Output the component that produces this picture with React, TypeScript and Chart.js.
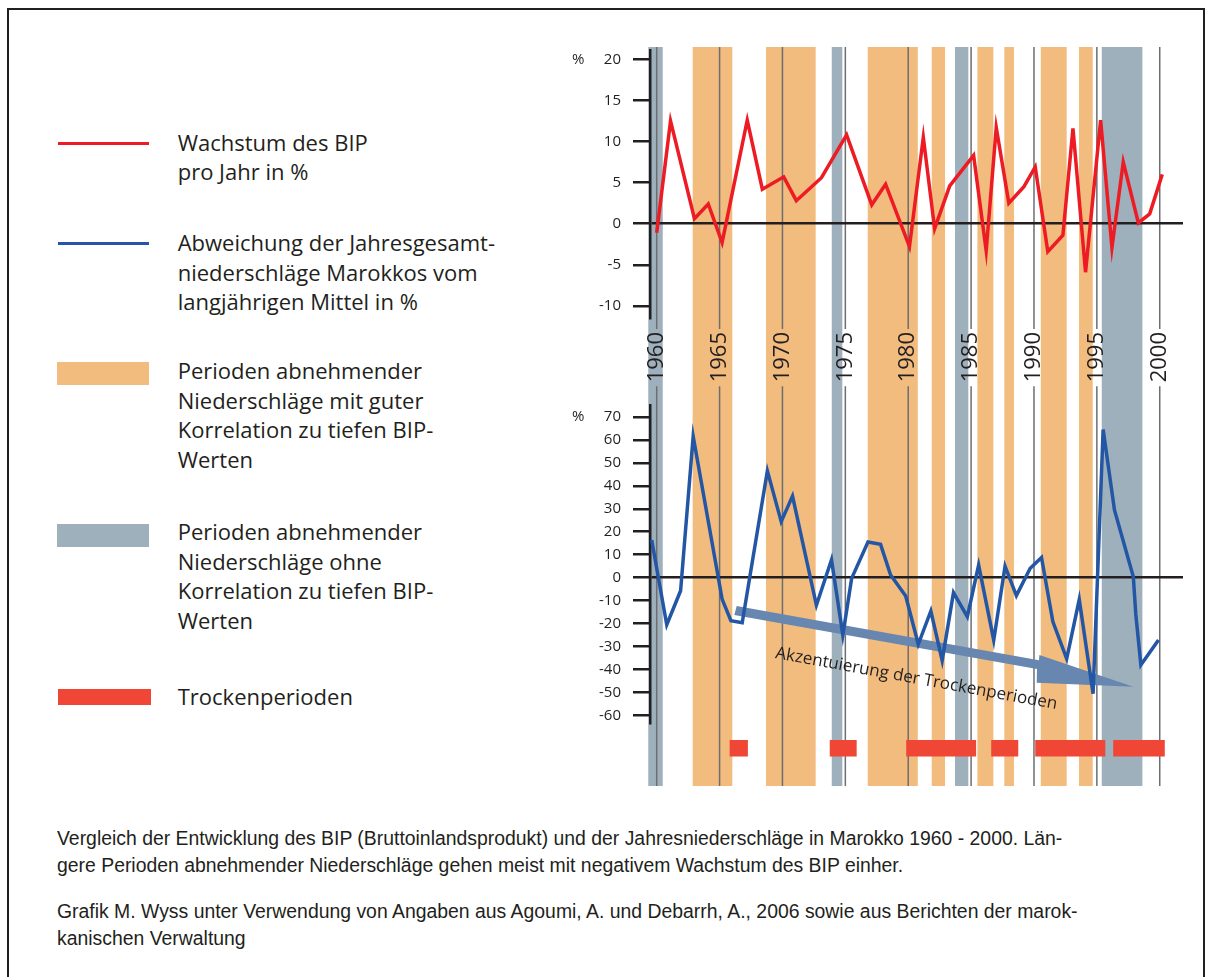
import { useEffect, useRef } from "react";
import { Chart, registerables } from "chart.js";

Chart.register(...registerables);

const FONT = '"Open Sans", "DejaVu Sans", sans-serif';
const INK = "#231F20";
const RED = "#ED1C24";
const BLUE = "#2356A5";
const ORANGE = "#F2BC7F";
const GRAY = "#9EB0BC";
const DRY = "#EF4635";
const YEARLINE = "#6D6E70";
const ARROW = "#6787B1";

// ---- data ----
const yearTicks = [1960, 1965, 1970, 1975, 1980, 1985, 1990, 1995, 2000];
const gdpTicks = [-10, -5, 0, 5, 10, 15, 20];
const rainTicks = [-60, -50, -40, -30, -20, -10, 0, 10, 20, 30, 40, 50, 60, 70];

const gdpYears = [1960, 1961.1, 1963, 1964.1, 1965.2, 1967.2, 1968.4, 1970.1, 1971.1, 1973.1, 1975.1, 1977.1, 1978.2, 1980.1, 1981.2, 1982.1, 1983.3, 1985.2, 1986.2, 1987, 1988, 1989.2, 1990.1, 1991.1, 1992.3, 1993.1, 1994.1, 1995.3, 1996.2, 1997.1, 1998.3, 1999.2, 2000.2];
const gdpValues = [-1.1, 12.5, 0.6, 2.4, -2.3, 12.6, 4.2, 5.7, 2.8, 5.6, 10.8, 2.3, 4.8, -2.8, 10.5, -0.6, 4.6, 8.3, -3.3, 11.7, 2.5, 4.5, 6.9, -3.4, -1.4, 11.6, -5.9, 12.6, -2.9, 7.5, 0.1, 1.2, 6.0];

const rainYears = [1959.6, 1960.8, 1961.9, 1962.9, 1965.2, 1965.9, 1966.8, 1968.8, 1969.9, 1970.8, 1972.7, 1973.9, 1974.8, 1975.5, 1976.8, 1977.8, 1978.6, 1979.8, 1980.8, 1981.8, 1982.7, 1983.6, 1984.7, 1985.6, 1986.8, 1987.7, 1988.6, 1989.7, 1990.6, 1991.5, 1992.6, 1993.6, 1994.7, 1995.5, 1996.4, 1997.9, 1998.1, 1998.5, 1999.9];
const rainValues = [16.4, -20.5, -5.7, 61.5, -9.3, -18.7, -19.6, 46.5, 24.4, 35.5, -12, 7.8, -25, -0.3, 15.5, 14.5, 1.2, -8, -29, -14.5, -36, -6.5, -17, 5.5, -27.2, 5, -7.8, 4.1, 8.8, -19.1, -35.3, -9.5, -50.5, 64.5, 29.5, 0.4, -16.2, -38, -27.1];

const orangeBands = [[1962.86, 1966.01], [1968.69, 1972.64], [1976.78, 1980.76], [1981.87, 1982.93], [1985.5, 1986.77], [1987.64, 1988.41], [1990.54, 1992.6], [1993.58, 1994.67]];
const grayBands = [[1959.33, 1960.48], [1973.92, 1974.76], [1983.72, 1984.78], [1995.39, 1998.62]];
const dryPeriods = [[1965.8, 1967.25], [1973.76, 1975.9], [1979.84, 1985.4], [1986.6, 1988.75], [1990.1, 1995.67], [1996.3, 2000.4]];

// arrow annotation (year, % deviation)
const arrowShape = [[1966.36, -12.3], [1990.4, -35.9], [1990.43, -33.7], [1997.9, -47.5], [1990.22, -45.7], [1990.24, -39.8], [1966.17, -16.2]];
const arrowLabel = "Akzentuierung der Trockenperioden";
const arrowLabelAt = [1980.58, -46.1];
const arrowLabelAngle = 10.3;

const X_MIN = 1959.467;
const X_MAX = 2001.85;
const LABEL_PAD = 14;

function makePlugin(mode: "top" | "bottom") {
  return {
    id: "decor-" + mode,
    beforeDraw(chart: any) {
      const { ctx, chartArea, scales } = chart;
      const x = scales.x;
      const top = mode === "top" ? chartArea.top - 3 : 0;
      const bottom = mode === "top" ? chart.height : chartArea.bottom + 63;
      ctx.save();
      const band = (b: number[], color: string) => {
        const a = x.getPixelForValue(b[0]);
        const c = x.getPixelForValue(b[1]);
        ctx.fillStyle = color;
        ctx.fillRect(a, top, c - a, bottom - top);
      };
      orangeBands.forEach((b) => band(b, ORANGE));
      grayBands.forEach((b) => band(b, GRAY));
      ctx.strokeStyle = YEARLINE;
      ctx.lineWidth = 1.5;
      ctx.font = `22px ${FONT}`;
      yearTicks.forEach((yr) => {
        const px = x.getPixelForValue(yr);
        ctx.beginPath();
        if (mode === "top") {
          const lt = chartArea.bottom + LABEL_PAD;
          const lb = lt + ctx.measureText(String(yr)).width;
          ctx.moveTo(px, top);
          ctx.lineTo(px, lt - 3);
          ctx.moveTo(px, lb + 4);
          ctx.lineTo(px, bottom);
        } else {
          ctx.moveTo(px, top);
          ctx.lineTo(px, bottom);
        }
        ctx.stroke();
      });
      if (mode === "bottom") {
        ctx.fillStyle = DRY;
        dryPeriods.forEach((d) => {
          const a = x.getPixelForValue(d[0]);
          const c = x.getPixelForValue(d[1]);
          ctx.fillRect(a, chartArea.bottom + 17, c - a, 16.5);
        });
      }
      ctx.restore();
    },
    beforeDatasetsDraw(chart: any) {
      if (mode !== "bottom") return;
      const { ctx, scales } = chart;
      ctx.save();
      ctx.fillStyle = ARROW;
      ctx.beginPath();
      arrowShape.forEach((p, i) => {
        const px = scales.x.getPixelForValue(p[0]);
        const py = scales.y.getPixelForValue(p[1]);
        if (i === 0) ctx.moveTo(px, py);
        else ctx.lineTo(px, py);
      });
      ctx.closePath();
      ctx.fill();
      ctx.restore();
    },
    afterDatasetsDraw(chart: any) {
      const { ctx, scales } = chart;
      ctx.save();
      if (mode === "bottom") {
        const px = scales.x.getPixelForValue(arrowLabelAt[0]);
        const py = scales.y.getPixelForValue(arrowLabelAt[1]);
        ctx.translate(px, py);
        ctx.rotate((arrowLabelAngle * Math.PI) / 180);
        ctx.font = `17px ${FONT}`;
        ctx.fillStyle = INK;
        ctx.textAlign = "center";
        ctx.textBaseline = "alphabetic";
        ctx.fillText(arrowLabel, 0, 0);
      }
      ctx.restore();
    },
    afterDraw(chart: any) {
      const { ctx, scales } = chart;
      const ticks = mode === "top" ? gdpTicks : rainTicks;
      const py = scales.y.getPixelForValue(ticks[ticks.length - 1]);
      ctx.save();
      ctx.font = `15px ${FONT}`;
      ctx.fillStyle = INK;
      ctx.textAlign = "left";
      ctx.textBaseline = "middle";
      ctx.fillText("%", 12, py);
      ctx.restore();
    },
  };
}

function makeChart(canvas: HTMLCanvasElement, mode: "top" | "bottom") {
  const years = mode === "top" ? gdpYears : rainYears;
  const values = mode === "top" ? gdpValues : rainValues;
  const ticks = mode === "top" ? gdpTicks : rainTicks;
  const yMin = mode === "top" ? -11.47 : -63.26;
  const yMax = mode === "top" ? 21.13 : 75.18;
  return new Chart(canvas, {
    type: "line",
    data: {
      datasets: [
        {
          data: years.map((yr, i) => ({ x: yr, y: values[i] })),
          borderColor: mode === "top" ? RED : BLUE,
          borderWidth: 3.5,
          borderJoinStyle: "miter",
          pointRadius: 0,
          tension: 0,
          fill: false,
        },
      ],
    },
    options: {
      responsive: false,
      animation: false,
      events: [],
      layout: {
        padding: mode === "top" ? { top: 10, right: 17, bottom: 0, left: 0 } : { top: 5, right: 17, bottom: 67, left: 0 },
      },
      plugins: { legend: { display: false }, tooltip: { enabled: false }, title: { display: false } },
      scales: {
        x: {
          type: "linear",
          min: X_MIN,
          max: X_MAX,
          display: mode === "top",
          afterBuildTicks: (s: any) => {
            s.ticks = yearTicks.map((v) => ({ value: v }));
          },
          afterFit: (s: any) => {
            if (mode === "top") s.height = 82;
            else s.height = 0;
            s.paddingLeft = 0;
            s.paddingRight = 0;
            s.paddingTop = 0;
            s.paddingBottom = 0;
          },
          grid: { display: false, drawTicks: false },
          border: { display: false },
          ticks: {
            autoSkip: false,
            minRotation: 90,
            maxRotation: 90,
            padding: LABEL_PAD,
            color: INK,
            font: { family: FONT, size: 22 },
            callback: (v: any) => String(v),
          },
        },
        y: {
          type: "linear",
          min: yMin,
          max: yMax,
          afterBuildTicks: (s: any) => {
            s.ticks = ticks.map((v) => ({ value: v }));
          },
          afterFit: (s: any) => {
            s.width = 90;
            s.paddingTop = 0;
            s.paddingBottom = 0;
            s.paddingLeft = 0;
            s.paddingRight = 0;
          },
          grid: {
            color: (c: any) => (c.tick && c.tick.value === 0 ? INK : "rgba(0,0,0,0)"),
            lineWidth: 2.5,
            tickColor: INK,
            tickWidth: 2.5,
            tickLength: 17,
            drawTicks: true,
            drawOnChartArea: true,
          },
          border: { display: true, color: INK, width: 2.5 },
          ticks: {
            autoSkip: false,
            color: INK,
            padding: 12,
            font: { family: FONT, size: 15 },
            callback: (v: any) => String(v),
          },
        },
      },
    },
    plugins: [makePlugin(mode)],
  } as any);
}

const legendText: { top: number; lines: string[] }[] = [
  { top: 127.5, lines: ["Wachstum des BIP", "pro Jahr in %"] },
  { top: 228.3, lines: ["Abweichung der Jahresgesamt-", "niederschläge Marokkos vom", "langjährigen Mittel in %"] },
  { top: 356.2, lines: ["Perioden abnehmender", "Niederschläge mit guter", "Korrelation zu tiefen BIP-", "Werten"] },
  { top: 517, lines: ["Perioden abnehmender", "Niederschläge ohne", "Korrelation zu tiefen BIP-", "Werten"] },
  { top: 681.5, lines: ["Trockenperioden"] },
];

const captionParas: { top: number; lines: string[] }[] = [
  {
    top: 824.7,
    lines: [
      "Vergleich der Entwicklung des BIP (Bruttoinlandsprodukt) und der Jahresniederschläge in Marokko 1960 - 2000. Län-",
      "gere Perioden abnehmender Niederschläge gehen meist mit negativem Wachstum des BIP einher.",
    ],
  },
  {
    top: 897.7,
    lines: [
      "Grafik M. Wyss unter Verwendung von Angaben aus Agoumi, A. und Debarrh, A., 2006 sowie aus Berichten der marok-",
      "kanischen Verwaltung",
    ],
  },
];

export default function App() {
  const topRef = useRef<HTMLCanvasElement | null>(null);
  const botRef = useRef<HTMLCanvasElement | null>(null);

  useEffect(() => {
    const a = makeChart(topRef.current as HTMLCanvasElement, "top");
    const b = makeChart(botRef.current as HTMLCanvasElement, "bottom");
    return () => {
      a.destroy();
      b.destroy();
    };
  }, []);

  return (
    <div style={{ position: "absolute", left: 0, top: 0, width: 1211, height: 977, overflow: "hidden", background: "#fff" }}>
      <div
        style={{
          position: "absolute",
          left: 7,
          top: 8,
          width: 1198,
          height: 1200,
          boxSizing: "border-box",
          border: `2.5px solid ${INK}`,
        }}
      />
      {/* legend swatches */}
      <div style={{ position: "absolute", left: 57.5, top: 141.5, width: 91.5, height: 3, background: RED }} />
      <div style={{ position: "absolute", left: 57.5, top: 242.3, width: 91.5, height: 3, background: BLUE }} />
      <div style={{ position: "absolute", left: 57, top: 362, width: 92.3, height: 23, background: ORANGE }} />
      <div style={{ position: "absolute", left: 57, top: 523.6, width: 92.3, height: 23.4, background: GRAY }} />
      <div style={{ position: "absolute", left: 57.5, top: 689, width: 93.5, height: 16.3, background: DRY }} />
      {legendText.map((g, i) => (
        <div
          key={i}
          style={{
            position: "absolute",
            left: 177.7,
            top: g.top,
            fontFamily: FONT,
            fontSize: 22,
            lineHeight: "29.6px",
            color: INK,
            whiteSpace: "pre",
          }}
        >
          {g.lines.join("\n")}
        </div>
      ))}
      <canvas ref={topRef} width={640} height={360} style={{ position: "absolute", left: 560, top: 40 }} />
      <canvas ref={botRef} width={640} height={390} style={{ position: "absolute", left: 560, top: 400 }} />
      {captionParas.map((p, i) => (
        <div
          key={i}
          style={{
            position: "absolute",
            left: 57,
            top: p.top,
            fontFamily: '"Liberation Sans", Arial, sans-serif',
            fontSize: 19.4,
            lineHeight: "27px",
            color: INK,
            whiteSpace: "pre",
          }}
        >
          {p.lines.join("\n")}
        </div>
      ))}
    </div>
  );
}
